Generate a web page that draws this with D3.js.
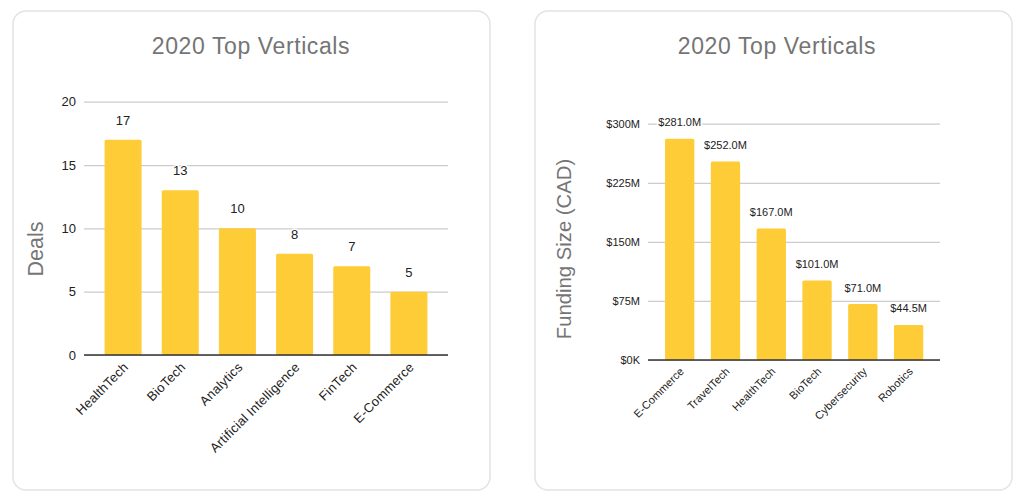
<!DOCTYPE html>
<html>
<head>
<meta charset="utf-8">
<script src="https://cdn.jsdelivr.net/npm/d3@7"></script>
<style>
  body { margin: 0; background: #fff; font-family: Arial, "Liberation Sans", sans-serif; }
  svg { display: block; }
</style>
</head>
<body>
<svg id="chart" width="1024" height="498"></svg>
<script>
// deals chart
var dealCategories = ["HealthTech", "BioTech", "Analytics", "Artificial Intelligence", "FinTech", "E-Commerce"];
var dealValues = [17, 13, 10, 8, 7, 5];
var dealTicks = [0, 5, 10, 15, 20];

// funding chart (millions CAD)
var fundCategories = ["E-Commerce", "TravelTech", "HealthTech", "BioTech", "Cybersecurity", "Robotics"];
var fundValues = [281.0, 252.0, 167.0, 101.0, 71.0, 44.5];
var fundTicks = [0, 75, 150, 225, 300];
var fundTickLabels = ["$0K", "$75M", "$150M", "$225M", "$300M"];

var barColor = "#fecc36";
var svg = d3.select("#chart");

function drawCard(x, w) {
    svg.append("rect")
        .attr("x", x).attr("y", 11)
        .attr("width", w).attr("height", 479)
        .attr("rx", 13)
        .attr("fill", "#fff")
        .attr("stroke", "#e3e3e3")
        .attr("stroke-width", 1.5);
}

function drawChart(opt) {
    var g = svg.append("g");

    g.append("text")
        .attr("x", opt.titleX).attr("y", 53.5)
        .attr("text-anchor", "middle")
        .attr("font-size", "23px")
        .attr("letter-spacing", "0.6px")
        .attr("fill", "#757575")
        .text("2020 Top Verticals");

    var y = d3.scaleLinear().domain([0, opt.max]).range([opt.y0, opt.y1]);
    var x = d3.scaleBand().domain(opt.categories)
        .range([opt.bandL, opt.bandR])
        .paddingInner(opt.pad).paddingOuter(opt.pad / 2);

    // gridlines + tick labels
    var yAxis = d3.axisLeft(y).tickValues(opt.ticks)
        .tickSize(-(opt.gridR - opt.gridL))
        .tickPadding(8)
        .tickFormat(function (d, i) { return opt.tickLabels[i]; });
    var ag = g.append("g")
        .attr("transform", "translate(" + opt.gridL + ",0)")
        .call(yAxis);
    ag.select(".domain").remove();
    ag.selectAll(".tick line").attr("stroke", "#cccccc").attr("stroke-width", 1.2);
    ag.selectAll(".tick text")
        .attr("font-family", "Arial, 'Liberation Sans', sans-serif")
        .attr("font-size", opt.tickFont)
        .attr("fill", "#222");

    // bars
    g.selectAll(".bar")
        .data(opt.values)
        .enter().append("rect")
        .attr("x", function (d, i) { return x(opt.categories[i]); })
        .attr("y", function (d) { return y(d); })
        .attr("width", x.bandwidth())
        .attr("height", function (d) { return y(0) - y(d); })
        .attr("rx", 1.5)
        .attr("fill", barColor);

    // baseline
    g.append("line")
        .attr("x1", opt.gridL).attr("x2", opt.gridR)
        .attr("y1", y(0)).attr("y2", y(0))
        .attr("stroke", "#333").attr("stroke-width", 1.5);

    // value labels
    g.selectAll(".val")
        .data(opt.values)
        .enter().append("text")
        .attr("x", function (d, i) { return x(opt.categories[i]) + x.bandwidth() / 2; })
        .attr("y", function (d) { return y(d) - opt.labelOff; })
        .attr("text-anchor", "middle")
        .attr("font-size", opt.valueFont)
        .attr("fill", "#222")
        .attr("stroke", "#fff").attr("stroke-width", 3)
        .attr("paint-order", "stroke")
        .text(opt.valueFormat);

    // category labels
    g.selectAll(".cat")
        .data(opt.categories)
        .enter().append("text")
        .attr("transform", function (d) {
            return "translate(" + (x(d) + x.bandwidth() / 2 + opt.catDx) + "," + (y(0) + opt.catDy) + ") rotate(-45)";
        })
        .attr("text-anchor", "end")
        .attr("font-size", opt.catFont)
        .attr("letter-spacing", opt.catSpacing)
        .attr("fill", "#222")
        .text(function (d) { return d; });

    // axis title
    g.append("text")
        .attr("transform", "translate(" + opt.titleYX + ",249) rotate(-90)")
        .attr("text-anchor", "middle")
        .attr("font-size", opt.axisFont)
        .attr("fill", "#757575")
        .text(opt.axisTitle);
}

drawCard(13, 477);
drawCard(535, 477);

drawChart({
    titleX: 251,
    categories: dealCategories, values: dealValues,
    max: 20, y0: 355, y1: 101.7,
    gridL: 84, gridR: 448, bandL: 94.5, bandR: 437.5, pad: 0.353,
    ticks: dealTicks, tickLabels: dealTicks.map(String), tickFont: "13px",
    valueFont: "13px", labelOff: 15,
    valueFormat: function (d) { return d; },
    catFont: "13px", catSpacing: "0.25px", catDx: 6, catDy: 13,
    titleYX: 43, axisTitle: "Deals", axisFont: "21.5px"
});

drawChart({
    titleX: 777,
    categories: fundCategories, values: fundValues,
    max: 300, y0: 360, y1: 123.7,
    gridL: 648, gridR: 940, bandL: 656.8, bandR: 931.5, pad: 0.36,
    ticks: fundTicks, tickLabels: fundTickLabels, tickFont: "11px",
    valueFont: "11px", labelOff: 12.5,
    valueFormat: function (d) { return "$" + d.toFixed(1) + "M"; },
    catFont: "11px", catSpacing: "0.1px", catDx: 5, catDy: 12,
    titleYX: 571, axisTitle: "Funding Size (CAD)", axisFont: "20.3px"
});
</script>
</body>
</html>
